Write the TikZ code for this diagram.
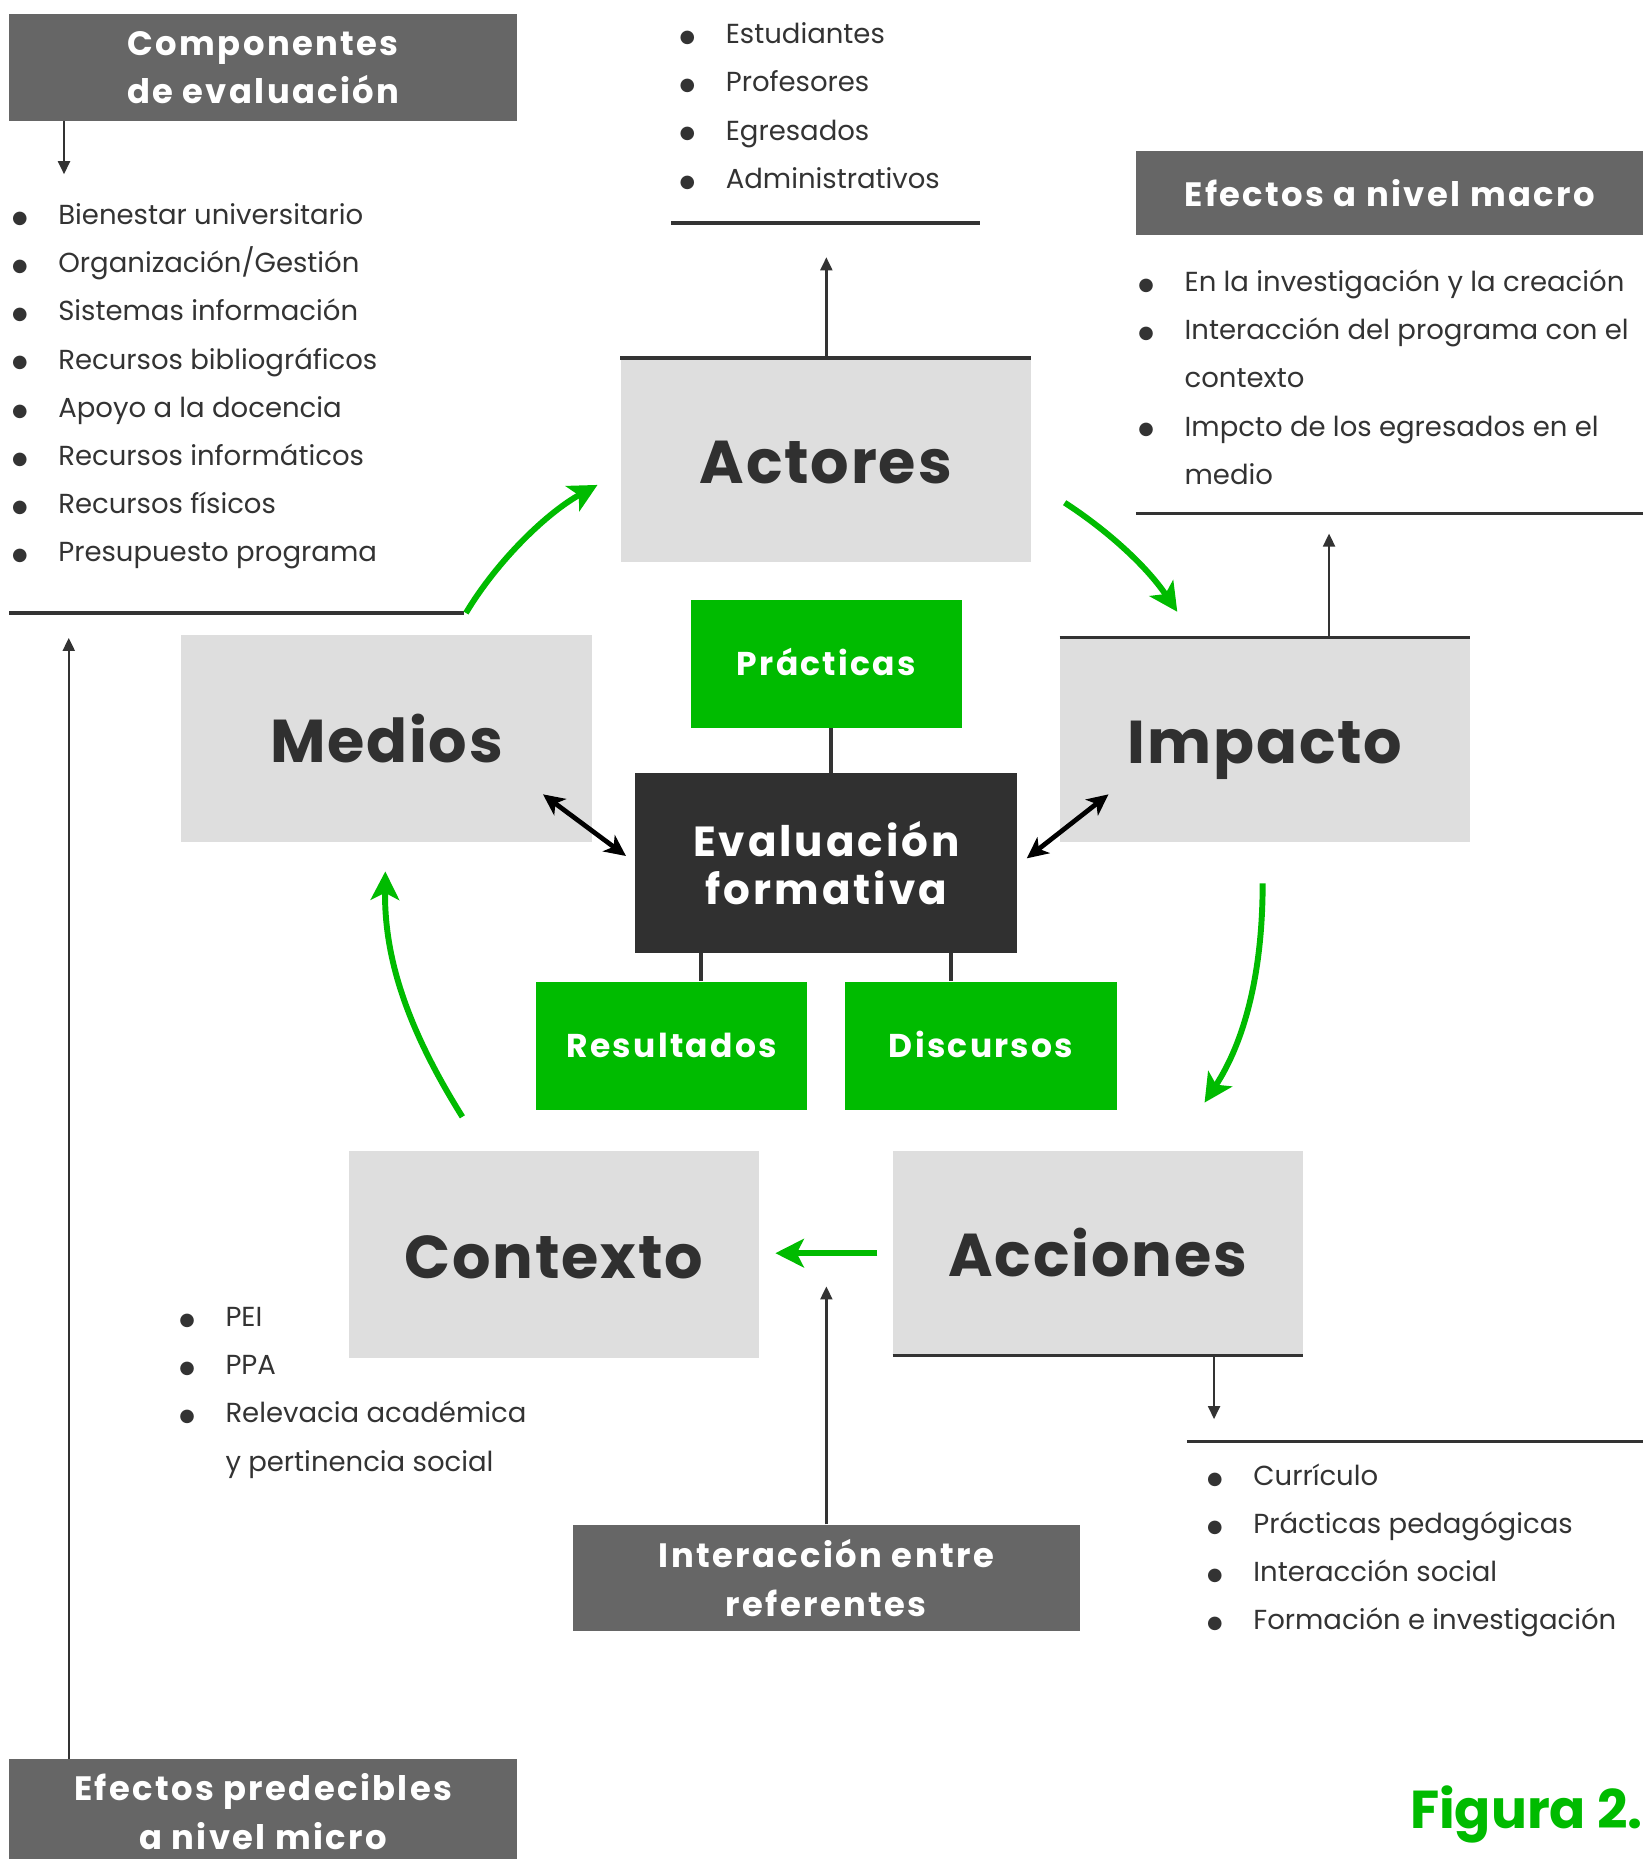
\documentclass[tikz,border=0pt]{standalone}
\usepackage{fontspec}
\setmainfont{Poppins}
\newfontfamily\spacedA[LetterSpace=3]{Poppins}
\newfontfamily\spacedB[LetterSpace=7]{Poppins}
\newfontfamily\dejavu{DejaVu Sans}
\usetikzlibrary{arrows.meta}
\definecolor{boxgray}{HTML}{666666}
\definecolor{lightbox}{HTML}{DEDEDE}
\definecolor{grn}{HTML}{00BB00}
\definecolor{darkbox}{HTML}{303030}
\definecolor{txt}{HTML}{333333}
\newcommand\listfnt{\fontsize{23.2}{40.6}\selectfont}
\newcommand\bl{\makebox[39pt][l]{\raisebox{1pt}{\dejavu\fontsize{15}{15}\selectfont ●}}}
\tikzset{
  graytitle/.style={fill=boxgray, text=white, inner sep=0, align=center,
    minimum width=428, font=\spacedB\bfseries\fontsize{28.5}{40.6}\selectfont},
  bigbox/.style={fill=lightbox, text=darkbox, inner sep=0, minimum width=346,
    text height=40pt, text depth=0pt, font=\spacedA\bfseries\fontsize{51}{60}\selectfont},
  grnbox/.style={fill=grn, text=white, inner sep=0, minimum width=229, minimum height=108,
    text height=20pt, text depth=0pt, font=\spacedB\bfseries\fontsize{27.8}{32}\selectfont},
  evalbox/.style={fill=darkbox, text=white, inner sep=0, align=center, minimum width=322,
    minimum height=152, font=\spacedB\bfseries\fontsize{35.5}{40.6}\selectfont},
  blist/.style={anchor=base west, inner sep=0, text=txt, font=\listfnt},
  sepline/.style={draw=txt, line width=3pt},
  thinarrow/.style={draw=txt, line width=2pt, -{Triangle[length=11pt,width=10pt]}},
  link/.style={draw=txt, line width=3.5pt},
  grnarrow/.style={draw=grn, line width=5pt, -{Stealth[length=24pt,width=24pt,inset=6pt]}},
  dblarrow/.style={draw=black, line width=4pt, {Stealth[length=18pt,width=17pt,inset=5pt]}-{Stealth[length=18pt,width=17pt,inset=5pt]}}
}
\begin{document}
\begin{tikzpicture}[x=1pt,y=-1pt]
\useasboundingbox[fill=white] (0,0) rectangle (1386,1568);

% title boxes
\node[graytitle, minimum height=90] (comp) at (222,57) {Componentes\\de evaluación};
\node[graytitle, minimum height=71] (macro) at (1172,162.5) {Efectos a nivel macro};
\node[graytitle, minimum height=90] (inter) at (697,1331) {Interacción entre\\referentes};
\node[graytitle, minimum height=88] (micro) at (222,1528) {Efectos predecibles\\a nivel micro};

% main boxes
\node[bigbox, minimum height=172] (actores) at (696.5,388) {Actores};
\node[bigbox, minimum height=174] (medios) at (326,623) {Medios};
\node[bigbox, minimum height=172] (impacto) at (1067,624) {Impacto};
\node[bigbox, minimum height=174] (contexto) at (467,1058) {Contexto};
\node[bigbox, minimum height=172] (acciones) at (926,1057) {Acciones};

% green boxes
\node[grnbox, minimum width=228] (practicas) at (697,560) {Prácticas};
\node[grnbox] (resultados) at (566.5,882) {Resultados};
\node[grnbox] (discursos) at (827.5,882) {Discursos};

% center
\node[evalbox] (eval) at (697,728) {Evaluación\\formativa};

% box border lines
\draw[sepline] (actores.north west) -- (actores.north east);
\draw[sepline] (impacto.north west) -- (impacto.north east);
\draw[sepline] (acciones.south west) -- (acciones.south east);

% lists
\node[blist] (complist) at (10,189.5) {\begin{tabular}[t]{@{}l@{}l@{}}
\bl&Bienestar universitario\\
\bl&Organización/Gestión\\
\bl&Sistemas información\\
\bl&Recursos bibliográficos\\
\bl&Apoyo a la docencia\\
\bl&Recursos informáticos\\
\bl&Recursos físicos\\
\bl&Presupuesto programa
\end{tabular}};
\node[blist] (actlist) at (573,37) {\begin{tabular}[t]{@{}l@{}l@{}}
\bl&Estudiantes\\
\bl&Profesores\\
\bl&Egresados\\
\bl&Administrativos
\end{tabular}};
\node[blist] (macrolist) at (960,246) {\begin{tabular}[t]{@{}l@{}l@{}}
\bl&En la investigación y la creación\\
\bl&Interacción del programa con el\\
&contexto\\
\bl&Impcto de los egresados en el\\
&medio
\end{tabular}};
\node[blist] (ctxlist) at (151,1119) {\begin{tabular}[t]{@{}l@{}l@{}}
\bl&PEI\\
\bl&PPA\\
\bl&Relevacia académica\\
&y pertinencia social
\end{tabular}};
\node[blist] (acclist) at (1018,1253) {\begin{tabular}[t]{@{}l@{}l@{}}
\bl&Currículo\\
\bl&Prácticas pedagógicas\\
\bl&Interacción social\\
\bl&Formación e investigación
\end{tabular}};

\node[anchor=base east, inner sep=0, text=grn, font=\bfseries\fontsize{45}{50}\selectfont] (fig) at (1386,1542) {Figura 2.};

% separator lines
\draw[sepline] (566,188) -- (827,188);
\draw[sepline] (958,433) -- (1386,433);
\draw[sepline] (8,517) -- (391,517);
\draw[sepline] (1001,1216) -- (1386,1216);

% coordinates for free ends
\coordinate (compEnd) at (54,147);
\coordinate (actEnd) at (697,217);
\coordinate (impEnd) at (1121,450);
\coordinate (accEnd) at (1024,1197);
\coordinate (interEnd) at (697,1085);
\coordinate (microEnd) at (58,538);

% thin arrows
\draw[thinarrow] (comp.south -| compEnd) -- (compEnd);
\draw[thinarrow] (actores.north -| actEnd) -- (actEnd);
\draw[thinarrow] (impacto.north -| impEnd) -- (impEnd);
\draw[thinarrow] (acciones.south -| accEnd) -- (accEnd);
\draw[thinarrow] (inter.north -| interEnd) -- (interEnd);
\draw[thinarrow] (micro.north -| microEnd) -- (microEnd);

% links to evaluation
\coordinate (pLink) at (701,0);
\coordinate (rLink) at (591,0);
\coordinate (dLink) at (802,0);
\draw[link] (practicas.south -| pLink) -- (eval.north -| pLink);
\draw[link] (eval.south -| rLink) -- (resultados.north -| rLink);
\draw[link] (eval.south -| dLink) -- (discursos.north -| dLink);

% double arrows
\coordinate (m1) at (458,670);
\coordinate (e1) at (528,722);
\coordinate (i1) at (935,670);
\coordinate (e2) at (866,724);
\draw[dblarrow] (m1) -- (e1);
\draw[dblarrow] (i1) -- (e2);

% green cycle arrows
\coordinate (g1s) at (393,517);
\coordinate (g1e) at (504,409);
\coordinate (g2s) at (898,424);
\coordinate (g2e) at (993,516);
\coordinate (g3s) at (1065,745);
\coordinate (g3e) at (1016,930);
\coordinate (g4s) at (740,1057);
\coordinate (g4e) at (654,1057);
\coordinate (g5s) at (390,942);
\coordinate (g5e) at (325,735);
\draw[grnarrow] (g1s) .. controls (420,472) and (462,432) .. (g1e);
\draw[grnarrow] (g2s) .. controls (932,446) and (966,476) .. (g2e);
\draw[grnarrow] (g3s) .. controls (1065,820) and (1050,878) .. (g3e);
\draw[grnarrow] (g4s) -- (g4e);
\draw[grnarrow] (g5s) .. controls (345,870) and (324,810) .. (g5e);
\end{tikzpicture}
\end{document}
